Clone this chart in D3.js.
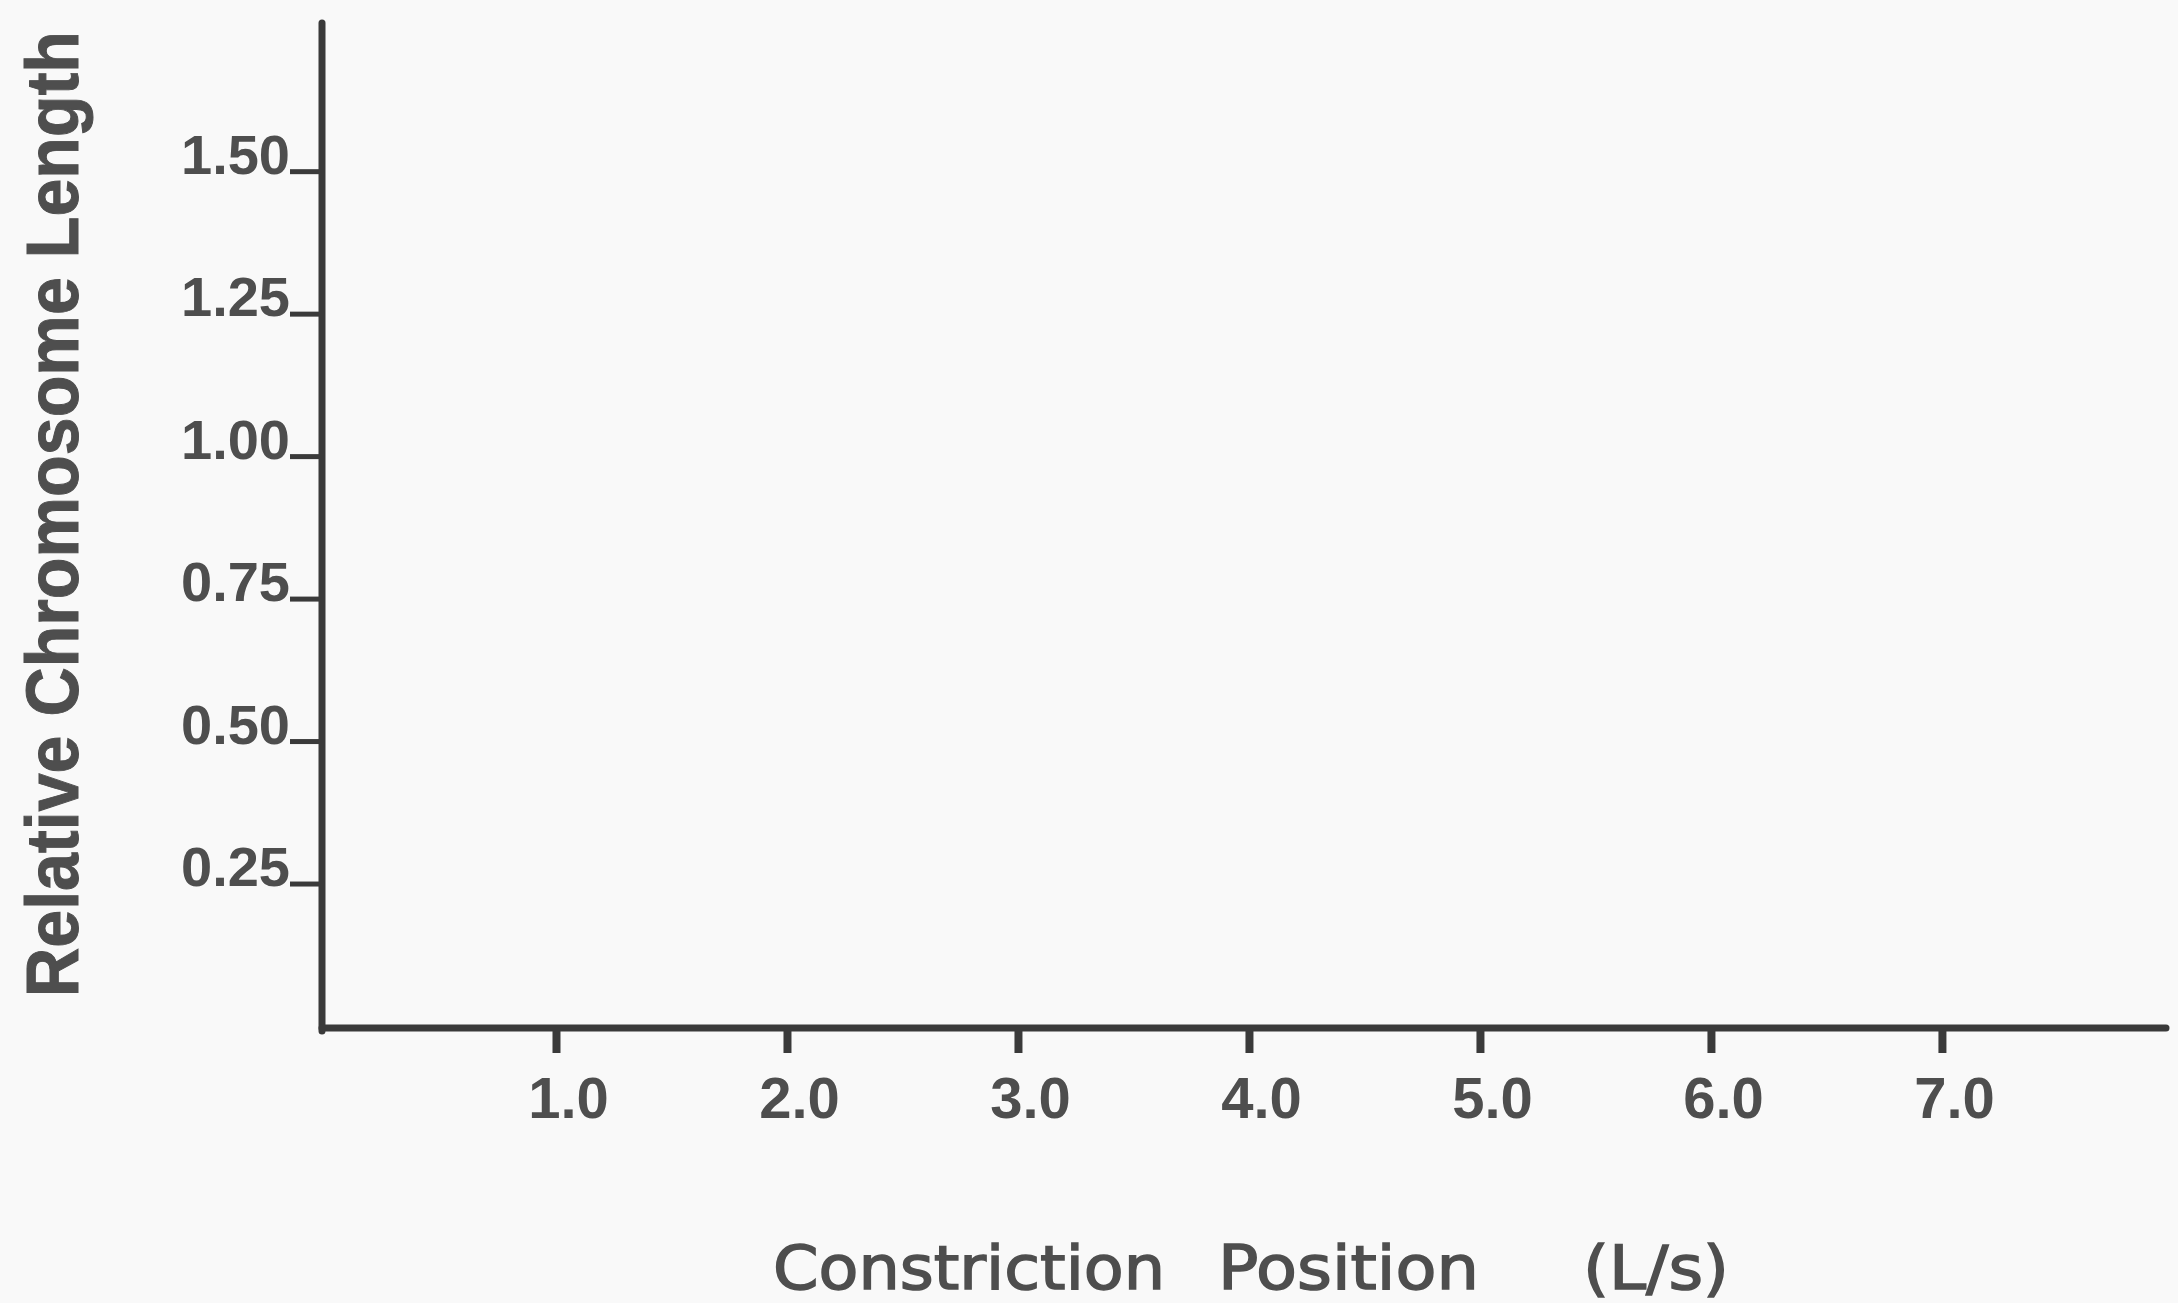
<!DOCTYPE html>
<html>
<head>
<meta charset="utf-8">
<script src="https://cdn.jsdelivr.net/npm/d3@7"></script>
<style>
  html, body { margin: 0; padding: 0; background: #f9f9f9; }
  svg { display: block; }
</style>
</head>
<body>
<script>
// Axis ticks and labels (the plot area carries no data marks)
const yTicks = [0.25, 0.50, 0.75, 1.00, 1.25, 1.50];
const yTickLabels = ["0.25", "0.50", "0.75", "1.00", "1.25", "1.50"];
const xTicks = [1, 2, 3, 4, 5, 6, 7];
const xTickLabels = ["1.0", "2.0", "3.0", "4.0", "5.0", "6.0", "7.0"];
const yDomain = [0, 1.76];
const xDomain = [0, 7.97];
const yTitle = "Relative Chromosome Length";
const xTitleParts = ["Constriction", "Position", "(L/s)"];

const W = 2178, H = 1303;
const ink = "#3a3a3a", textInk = "#4e4e4e";

const svg = d3.select("body").append("svg")
  .attr("width", W).attr("height", H);

svg.append("rect").attr("width", W).attr("height", H).attr("fill", "#f9f9f9");

const x = d3.scaleLinear().domain(xDomain).range([325, 2166]);
const y = d3.scaleLinear().domain(yDomain).range([1026, 23]);
const axisX = 322, axisY = 1028;

// Y axis
const gy = svg.append("g").attr("transform", `translate(${axisX},0)`)
  .call(d3.axisLeft(y).tickValues(yTicks)
    .tickFormat((d, i) => yTickLabels[i]).tickSize(32).tickPadding(0));
gy.select(".domain").remove();
gy.selectAll(".tick line").attr("stroke", ink).attr("stroke-width", 5);
gy.selectAll(".tick text")
  .attr("x", -32).attr("dy", 0).attr("y", 2)
  .attr("text-anchor", "end")
  .attr("fill", textInk)
  .style("font-family", "'Liberation Sans', Arial, sans-serif")
  .style("font-weight", "bold")
  .style("font-size", "56px");

// X axis
const gx = svg.append("g").attr("transform", `translate(0,${axisY})`)
  .call(d3.axisBottom(x).tickValues(xTicks)
    .tickFormat((d, i) => xTickLabels[i]).tickSize(25).tickPadding(0));
gx.select(".domain").remove();
gx.selectAll(".tick line").attr("stroke", ink).attr("stroke-width", 8);
gx.selectAll(".tick text")
  .attr("x", 12).attr("y", 90).attr("dy", 0)
  .attr("text-anchor", "middle")
  .attr("fill", textInk)
  .style("font-family", "'Liberation Sans', Arial, sans-serif")
  .style("font-weight", "bold")
  .style("font-size", "58px");

// Axis lines
svg.append("line")
  .attr("x1", axisX).attr("x2", axisX)
  .attr("y1", y(yDomain[1])).attr("y2", axisY + 3)
  .attr("stroke", ink).attr("stroke-width", 7).attr("stroke-linecap", "round");
svg.append("line")
  .attr("x1", axisX).attr("x2", x(xDomain[1]))
  .attr("y1", axisY).attr("y2", axisY)
  .attr("stroke", ink).attr("stroke-width", 7).attr("stroke-linecap", "round");

// Y title
svg.append("text")
  .attr("transform", "translate(78,514) rotate(-90)")
  .attr("text-anchor", "middle")
  .attr("textLength", 966).attr("lengthAdjust", "spacingAndGlyphs")
  .attr("fill", textInk)
  .attr("stroke", textInk).attr("stroke-width", 1)
  .style("font-family", "'Liberation Sans', Arial, sans-serif")
  .style("font-weight", "bold")
  .style("font-size", "74px")
  .text(yTitle);

// X title, set as three spaced words
const xTitleStarts = [773, 1218, 1583];
const xTitleWidths = [392, 261, 146];
svg.append("g").selectAll("text").data(xTitleParts).join("text")
  .attr("x", (d, i) => xTitleStarts[i])
  .attr("y", 1289)
  .attr("textLength", (d, i) => xTitleWidths[i])
  .attr("lengthAdjust", "spacingAndGlyphs")
  .attr("fill", textInk)
  .attr("stroke", textInk).attr("stroke-width", 1.5)
  .style("font-family", "'DejaVu Sans', sans-serif")
  .style("font-size", "61px")
  .text(d => d);
</script>
</body>
</html>
